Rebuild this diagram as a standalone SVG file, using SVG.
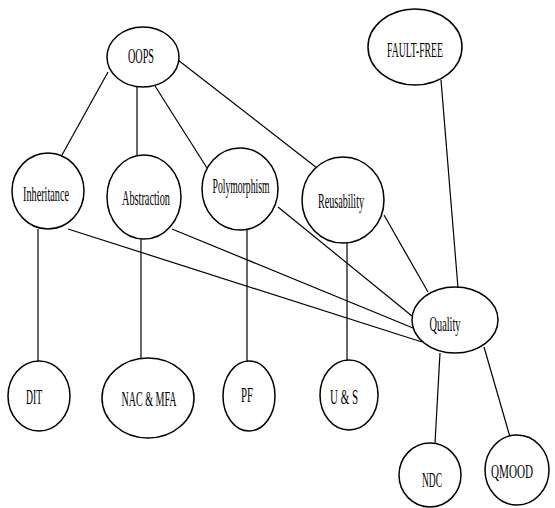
<svg xmlns="http://www.w3.org/2000/svg" width="555" height="508" viewBox="0 0 555 508">
<style>
.n ellipse{fill:#fff;stroke:#000;stroke-width:1.5}
.n text{font-family:"Liberation Serif","Times New Roman",serif;font-size:22px;fill:#000;text-anchor:middle}
#edges line{stroke:#000;stroke-width:1.2}
</style>
<rect width="555" height="508" fill="#fff"/>
<g id="edges">
<line x1="108" y1="72" x2="62" y2="155"/>
<line x1="137" y1="87" x2="137" y2="155"/>
<line x1="155" y1="86" x2="207" y2="168"/>
<line x1="178" y1="60" x2="317" y2="168"/>
<line x1="384" y1="215" x2="428" y2="292"/>
<line x1="441" y1="80" x2="458" y2="288"/>
<line x1="347" y1="243" x2="347" y2="361"/>
<line x1="247" y1="230" x2="247" y2="361"/>
<line x1="141" y1="239" x2="141" y2="364"/>
<line x1="38" y1="229" x2="38" y2="368"/>
<line x1="68" y1="229" x2="422" y2="342"/>
<line x1="172" y1="229" x2="413" y2="328"/>
<line x1="278" y1="207" x2="412" y2="316"/>
<line x1="440" y1="353" x2="435" y2="443"/>
<line x1="484" y1="347" x2="510" y2="437"/>
</g>
<g id="oops" class="n"><ellipse cx="143" cy="57" rx="36" ry="30"/><text x="141" y="63" textLength="26" lengthAdjust="spacingAndGlyphs">OOPS</text></g>
<g id="faultfree" class="n"><ellipse cx="415" cy="47" rx="47" ry="38"/><text x="415" y="57" textLength="56" lengthAdjust="spacingAndGlyphs">FAULT-FREE</text></g>
<g id="inheritance" class="n"><ellipse cx="48" cy="191" rx="36" ry="38"/><text x="46" y="201" textLength="46" lengthAdjust="spacingAndGlyphs">Inheritance</text></g>
<g id="abstraction" class="n"><ellipse cx="144" cy="197" rx="37" ry="42"/><text x="146" y="205" textLength="48" lengthAdjust="spacingAndGlyphs">Abstraction</text></g>
<g id="polymorphism" class="n"><ellipse cx="240" cy="189" rx="38" ry="41"/><text x="241" y="193" textLength="57" lengthAdjust="spacingAndGlyphs">Polymorphism</text></g>
<g id="reusability" class="n"><ellipse cx="343" cy="200" rx="41" ry="43"/><text x="341" y="208" textLength="46" lengthAdjust="spacingAndGlyphs">Reusability</text></g>
<g id="quality" class="n"><ellipse cx="455" cy="320" rx="43" ry="33"/><text x="445" y="331" textLength="31" lengthAdjust="spacingAndGlyphs">Quality</text></g>
<g id="dit" class="n"><ellipse cx="39" cy="396" rx="31" ry="35"/><text x="34" y="404" textLength="16" lengthAdjust="spacingAndGlyphs">DIT</text></g>
<g id="nacmfa" class="n"><ellipse cx="148" cy="398" rx="46" ry="40"/><text x="149" y="406" textLength="55" lengthAdjust="spacingAndGlyphs">NAC &amp; MFA</text></g>
<g id="pf" class="n"><ellipse cx="249" cy="396" rx="26" ry="35"/><text x="247" y="402" textLength="12" lengthAdjust="spacingAndGlyphs">PF</text></g>
<g id="us" class="n"><ellipse cx="349" cy="395" rx="29" ry="35"/><text x="344" y="404" textLength="28" lengthAdjust="spacingAndGlyphs">U &amp; S</text></g>
<g id="ndc" class="n"><ellipse cx="430" cy="475" rx="31" ry="32"/><text x="432" y="487" textLength="20" lengthAdjust="spacingAndGlyphs">NDC</text></g>
<g id="qmood" class="n"><ellipse cx="517" cy="470" rx="32" ry="35"/><text x="512" y="478" style="font-size:18px" textLength="42" lengthAdjust="spacingAndGlyphs">QMOOD</text></g>
</svg>
